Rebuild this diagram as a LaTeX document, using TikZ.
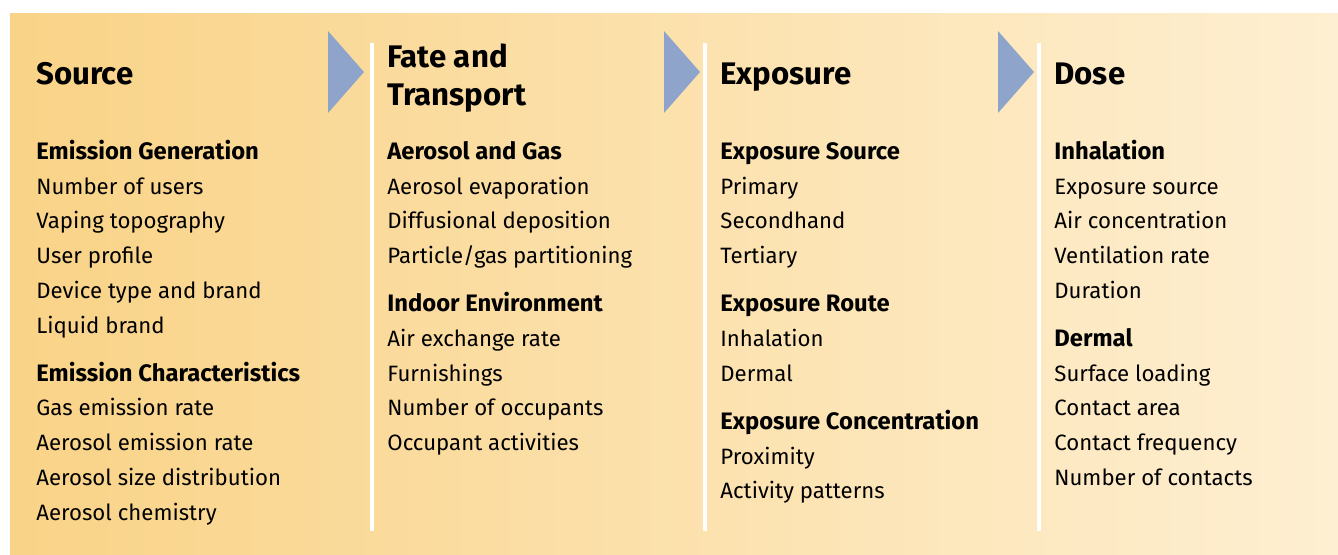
\documentclass[tikz,border=0pt]{standalone}
\usepackage{fontspec}
\setmainfont{Fira Sans}
\usepackage{tikz}
\usetikzlibrary{positioning}
\definecolor{bgleft}{RGB}{249,211,135}
\definecolor{bgmid}{RGB}{253,227,170}
\definecolor{bgright}{RGB}{254,239,210}
\definecolor{stagearrow}{RGB}{143,164,203}
\tikzset{
	stagehead/.style={anchor=base west, inner sep=0pt, align=left, font=\fontsize{15.6}{19}\selectfont\bfseries},
	stagebody/.style={anchor=base west, inner sep=0pt, align=left, font=\fontsize{11.1}{17.35}\selectfont},
	stagesep/.style={draw=white, line width=2pt},
	stagetip/.style={fill=stagearrow}
}
\newcommand{\grouphead}[1]{{\fontsize{11.9}{17.35}\selectfont\bfseries #1}}
\begin{document}
\begin{tikzpicture}[x=0.5pt,y=-0.5pt]
	\useasboundingbox (0,0) rectangle (1338,554);
	\shade[left color=bgleft, middle color=bgmid, right color=bgright] (10,13) rectangle (1338,554);
	% separators
	\draw[stagesep] (372,43) -- (372,531);
	\draw[stagesep] (705,43) -- (705,531);
	\draw[stagesep] (1039,43) -- (1039,531);
	% arrow heads between stages
	\fill[stagetip] (328,31) -- (364,72) -- (328,113) -- cycle;
	\fill[stagetip] (664,31) -- (700,72) -- (664,113) -- cycle;
	\fill[stagetip] (998,31) -- (1034,72) -- (998,113) -- cycle;
	% stage titles (a node sits on the baseline of its last line)
	\node[stagehead] (source) at (36,84) {Source};
	\node[stagehead] (fate) at (387,105) {Fate and\\Transport};
	\node[stagehead] (exposure) at (720,84) {Exposure};
	\node[stagehead] (dose) at (1054,84) {Dose};
	% stage contents
	\node[stagebody] (sourcelist) at (36,520) {\grouphead{Emission Generation}\\
		Number of users\\ Vaping topography\\ User profile\\ Device type and brand\\ Liquid brand\\[6.75pt]
		\grouphead{Emission Characteristics}\\
		Gas emission rate\\ Aerosol emission rate\\ Aerosol size distribution\\ Aerosol chemistry};
	\node[stagebody] (fatelist) at (387,450.6) {\grouphead{Aerosol and Gas}\\
		Aerosol evaporation\\ Diffusional deposition\\ Particle/gas partitioning\\[6.75pt]
		\grouphead{Indoor Environment}\\
		Air exchange rate\\ Furnishings\\ Number of occupants\\ Occupant activities};
	\node[stagebody] (exposurelist) at (720,498.8) {\grouphead{Exposure Source}\\
		Primary\\ Secondhand\\ Tertiary\\[6.75pt]
		\grouphead{Exposure Route}\\
		Inhalation\\ Dermal\\[6.75pt]
		\grouphead{Exposure Concentration}\\
		Proximity\\ Activity patterns};
	\node[stagebody] (doselist) at (1054,485.3) {\grouphead{Inhalation}\\
		Exposure source\\ Air concentration\\ Ventilation rate\\ Duration\\[6.75pt]
		\grouphead{Dermal}\\
		Surface loading\\ Contact area\\ Contact frequency\\ Number of contacts};
\end{tikzpicture}
\end{document}
